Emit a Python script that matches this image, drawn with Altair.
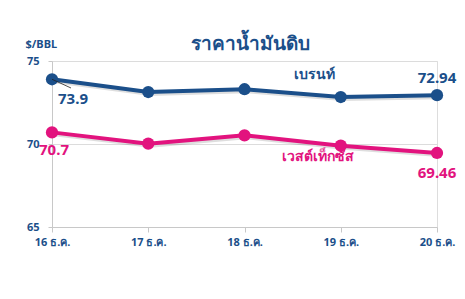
import altair as alt
import pandas as pd

# Daily crude oil prices (USD per barrel)
days = ["16 ธ.ค.", "17 ธ.ค.", "18 ธ.ค.", "19 ธ.ค.", "20 ธ.ค."]
brent = [73.90, 73.13, 73.30, 72.83, 72.94]
wti = [70.70, 70.02, 70.52, 69.90, 69.46]

series_names = ["เบรนท์", "เวสต์เท็กซัส"]
series_colors = ["#1B4F8A", "#E2137E"]
NAVY = series_colors[0]
PINK = series_colors[1]
FONT = "Noto Sans"

rows = []
for name, vals in zip(series_names, [brent, wti]):
    for d, v in zip(days, vals):
        rows.append({"day": d, "price": v, "series": name})
df = pd.DataFrame(rows)

x_enc = alt.X(
    "day:N",
    sort=days,
    scale=alt.Scale(type="point", padding=0),
    axis=alt.Axis(
        title=None, labelAngle=0, labelFont=FONT, labelFontSize=11,
        labelFontWeight="bold", labelColor=NAVY, labelPadding=4,
        domainColor="#c8c8c8", tickColor="#c8c8c8", tickSize=5, grid=False,
    ),
)
y_enc = alt.Y(
    "price:Q",
    scale=alt.Scale(domain=[65, 75], zero=False, nice=False),
    axis=alt.Axis(
        values=[65, 70, 75], title="$/BBL", titleAngle=0, titleFont=FONT,
        titleFontSize=11, titleFontWeight="bold", titleColor=NAVY,
        titleX=-27, titleY=-17, titleAlign="left", titleBaseline="middle",
        labelFont=FONT, labelFontSize=11, labelFontWeight="bold",
        labelColor=NAVY, labelPadding=9,
        domainColor="#c8c8c8", tickColor="#c8c8c8", tickSize=4,
        gridColor="#dcdcdc", gridWidth=1,
    ),
)
color_enc = alt.Color(
    "series:N",
    scale=alt.Scale(domain=series_names, range=series_colors),
    legend=None,
)

base = alt.Chart(df).encode(x=x_enc, y=y_enc)

shadow = base.mark_line(strokeWidth=4, color="#000000", opacity=0.13,
                        xOffset=2, yOffset=2).encode(detail="series:N")
lines = base.mark_line(strokeWidth=4).encode(color=color_enc)
points = base.mark_circle(size=150, opacity=1).encode(color=color_enc)


def value_label(name, day, color, dx, dy, align="center"):
    return alt.Chart(df).transform_filter(
        (alt.datum.series == name) & (alt.datum.day == day)
    ).mark_text(
        font=FONT, fontSize=15, fontWeight="bold", color=color,
        dx=dx, dy=dy, align=align,
    ).encode(
        x=alt.X("day:N", sort=days), y="price:Q", text="price:Q"
    )


labels = [
    value_label("เบรนท์", "16 ธ.ค.", NAVY, 21, 20),
    value_label("เบรนท์", "20 ธ.ค.", NAVY, 0, -17),
    value_label("เวสต์เท็กซัส", "16 ธ.ค.", PINK, 2, 18),
    value_label("เวสต์เท็กซัส", "20 ธ.ค.", PINK, 0, 20),
]

# small leader from the first Brent point to its label
leader = alt.Chart(df).transform_filter(
    (alt.datum.series == "เบรนท์") & (alt.datum.day == "16 ธ.ค.")
).mark_rule(color="#222222", strokeWidth=0.8).encode(
    x=alt.X("day:N", sort=days), y="price:Q",
    x2=alt.value(19), y2=alt.value(27),
)


def series_label(name, color, dx, dy):
    return alt.Chart(df).transform_filter(
        (alt.datum.series == name) & (alt.datum.day == "19 ธ.ค.")
    ).mark_text(
        font=FONT, fontSize=14, fontWeight="bold", color=color, dx=dx, dy=dy,
    ).encode(x=alt.X("day:N", sort=days), y="price:Q", text="series:N")


chart = alt.layer(
    shadow, lines, points, leader, *labels,
    series_label("เบรนท์", NAVY, -26, -22),
    series_label("เวสต์เท็กซัส", PINK, -23, 11),
).properties(
    width=385,
    height=166,
    title=alt.TitleParams(
        "ราคาน้ำมันดิบ", font=FONT, fontSize=19, fontWeight="bold",
        color=NAVY, anchor="middle", offset=8, dy=24, dx=6,
    ),
    autosize=alt.AutoSizeParams(type="none"),
    padding={"left": 52, "top": 61, "right": 28, "bottom": 72},
).configure_view(stroke=None).configure(background="white")

chart.save("out.html", embed_options={"renderer": "svg", "actions": False})
